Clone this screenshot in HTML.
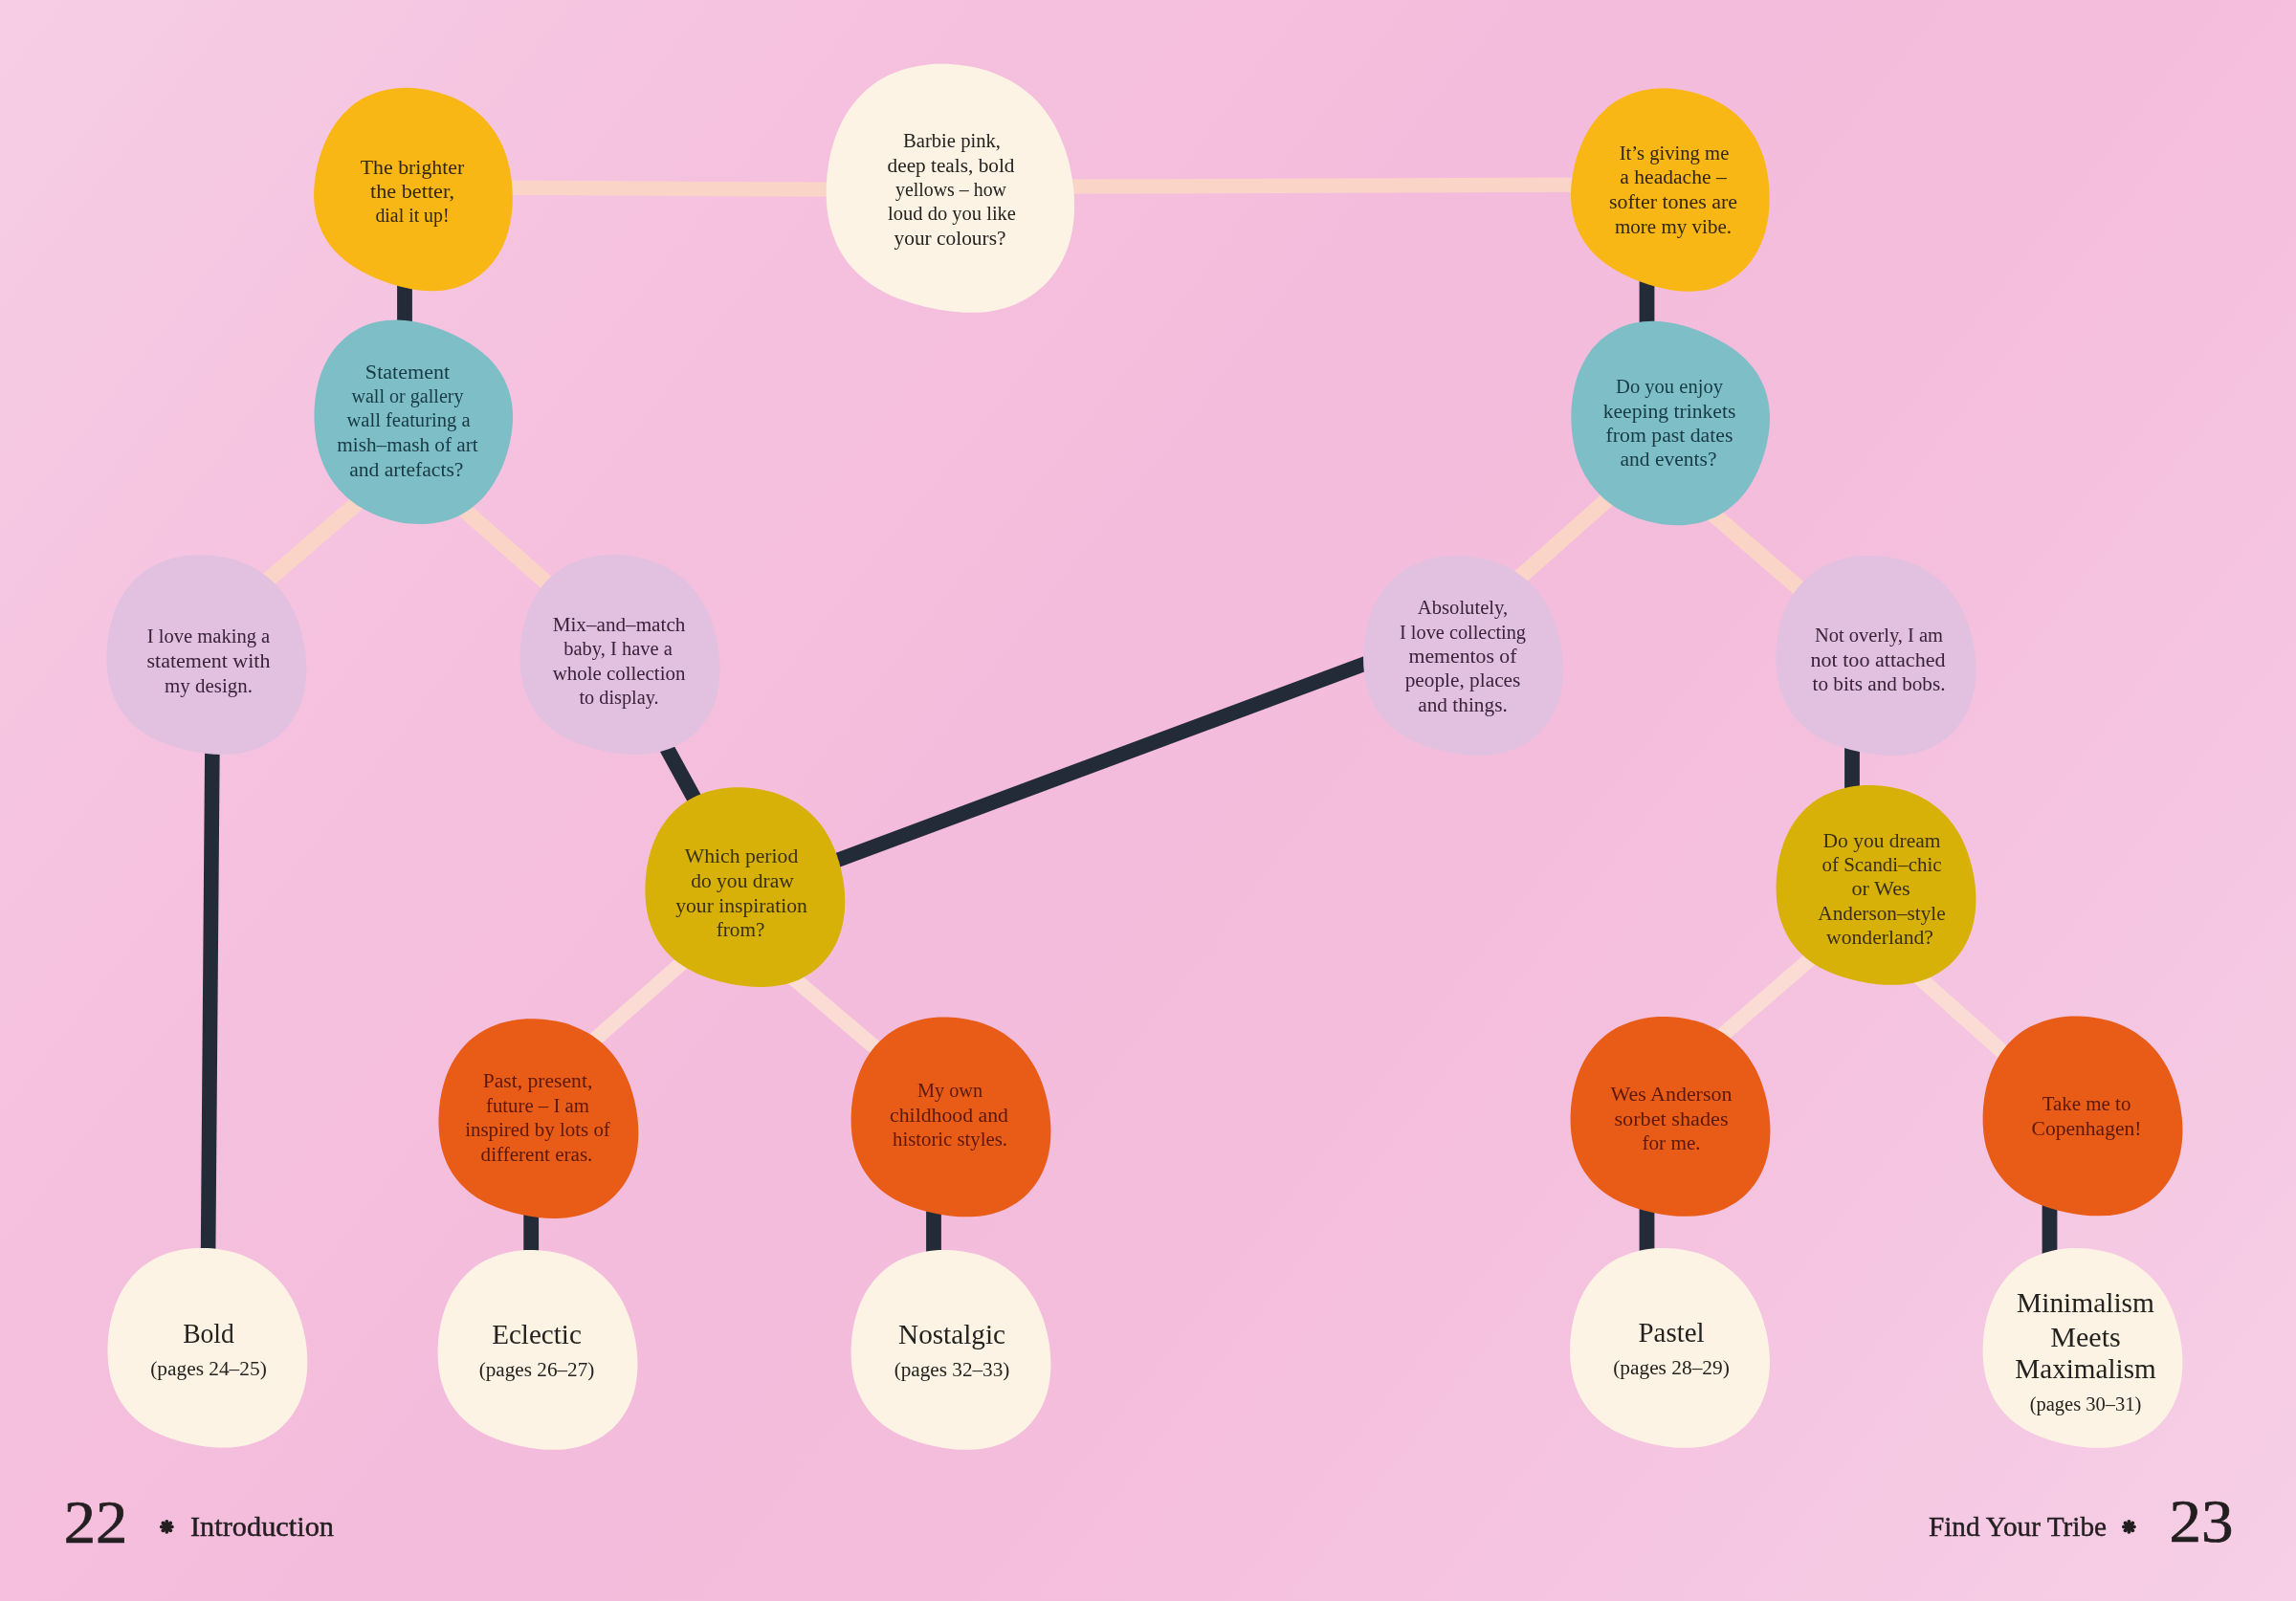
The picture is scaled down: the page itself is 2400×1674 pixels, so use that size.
<!DOCTYPE html>
<html lang="en"><head><meta charset="utf-8"><title>Find Your Tribe</title>
<style>
html,body{margin:0;padding:0}
body{width:2400px;height:1674px;overflow:hidden;position:relative;font-family:"Liberation Serif",serif;
background:linear-gradient(128deg,#f6cde5 0%,#f5c2df 22%,#f4bcdc 45%,#f4bddc 62%,#f5c7e2 84%,#f7cfe7 100%)}
svg{position:absolute;left:0;top:0;display:block}
#txt{position:absolute;left:0;top:0;width:2400px;height:1674px;will-change:transform}
.t{position:absolute;white-space:nowrap;line-height:1;transform-origin:50% 50%}
</style></head><body>
<svg width="2400" height="1674" viewBox="0 0 2400 1674"><line x1="520.0" y1="196.2" x2="880.0" y2="198.2" stroke="#FBD4C8" stroke-width="15.3"/><line x1="1105.0" y1="195.2" x2="1660.0" y2="193.2" stroke="#FBD4C8" stroke-width="15.3"/><line x1="410.2" y1="494.2" x2="242.6" y2="638.7" stroke="#FBD4C8" stroke-width="16.6"/><line x1="452.5" y1="504.1" x2="606.1" y2="640.1" stroke="#FBD4C8" stroke-width="16.6"/><line x1="1717.1" y1="489.6" x2="1551.1" y2="637.0" stroke="#FBD4C8" stroke-width="16.6"/><line x1="1757.3" y1="508.9" x2="1918.1" y2="647.4" stroke="#FBD4C8" stroke-width="16.6"/><line x1="747.3" y1="976.5" x2="585.6" y2="1118.7" stroke="#FADCD5" stroke-width="15.6"/><line x1="799.7" y1="997.6" x2="947.9" y2="1123.5" stroke="#FADCD5" stroke-width="15.6"/><line x1="1926.0" y1="973.7" x2="1766.5" y2="1111.4" stroke="#FADCD5" stroke-width="15.6"/><line x1="1976.7" y1="996.0" x2="2125.7" y2="1128.6" stroke="#FADCD5" stroke-width="15.6"/><line x1="423.0" y1="290.0" x2="423.0" y2="350.0" stroke="#242B38" stroke-width="15.8"/><line x1="1721.5" y1="290.0" x2="1721.5" y2="350.0" stroke="#242B38" stroke-width="15.8"/><line x1="222.0" y1="770.0" x2="217.5" y2="1320.0" stroke="#242B38" stroke-width="15.6"/><line x1="1936.0" y1="775.0" x2="1936.0" y2="840.0" stroke="#242B38" stroke-width="15.8"/><line x1="555.2" y1="1255.0" x2="555.2" y2="1325.0" stroke="#242B38" stroke-width="15.8"/><line x1="976.0" y1="1255.0" x2="976.0" y2="1325.0" stroke="#242B38" stroke-width="15.8"/><line x1="1721.5" y1="1255.0" x2="1721.5" y2="1325.0" stroke="#242B38" stroke-width="15.8"/><line x1="2142.5" y1="1255.0" x2="2142.5" y2="1325.0" stroke="#242B38" stroke-width="15.8"/><line x1="684.5" y1="759.4" x2="738.1" y2="857.4" stroke="#242B38" stroke-width="15.8"/><line x1="859.3" y1="905.4" x2="1446.2" y2="686.8" stroke="#242B38" stroke-width="15.4"/><path d="M103.5 0.0C104.1 6.0 104.5 12.2 104.3 18.4C104.1 24.6 103.6 31.0 102.3 37.2C101.0 43.5 99.2 49.8 96.6 55.8C94.0 61.7 90.7 67.6 86.7 72.8C82.8 78.0 78.0 82.8 72.9 86.9C67.8 90.9 61.9 94.3 56.0 97.0C50.1 99.6 43.6 101.4 37.4 102.7C31.1 104.0 24.7 104.5 18.4 104.6C12.2 104.8 6.0 104.3 0.0 103.7C-6.0 103.0 -11.9 102.0 -17.8 100.8C-23.6 99.5 -29.4 98.1 -35.0 96.3C-40.7 94.5 -46.4 92.4 -51.9 89.8C-57.3 87.2 -62.8 84.3 -67.7 80.7C-72.7 77.2 -77.5 73.1 -81.7 68.5C-85.8 64.0 -89.6 58.8 -92.6 53.5C-95.6 48.1 -98.1 42.2 -99.9 36.4C-101.8 30.5 -102.9 24.3 -103.7 18.3C-104.4 12.2 -104.6 6.1 -104.5 0.0C-104.4 -6.1 -103.9 -12.1 -103.0 -18.2C-102.1 -24.2 -100.9 -30.2 -99.1 -36.1C-97.4 -42.0 -95.3 -47.9 -92.6 -53.5C-89.9 -59.0 -86.6 -64.6 -82.8 -69.5C-79.0 -74.5 -74.6 -79.2 -69.8 -83.2C-65.0 -87.2 -59.6 -90.7 -54.0 -93.6C-48.5 -96.4 -42.5 -98.6 -36.5 -100.3C-30.5 -101.9 -24.3 -103.0 -18.3 -103.6C-12.2 -104.2 -6.0 -104.2 -0.0 -103.9C6.0 -103.6 12.1 -102.9 17.9 -101.7C23.8 -100.5 29.7 -99.0 35.3 -96.9C40.9 -94.8 46.4 -92.3 51.6 -89.3C56.7 -86.3 61.7 -82.7 66.2 -78.8C70.6 -74.9 74.8 -70.5 78.5 -65.8C82.1 -61.2 85.3 -56.1 88.2 -50.9C91.0 -45.7 93.3 -40.2 95.4 -34.7C97.4 -29.2 99.1 -23.5 100.4 -17.7C101.8 -11.9 102.8 -6.0 103.5 0.0Z" transform="translate(433.4 197.1) rotate(8.65)" fill="#F9B716"/><path d="M103.5 0.0C104.1 6.0 104.5 12.2 104.3 18.4C104.1 24.6 103.6 31.0 102.3 37.2C101.0 43.5 99.2 49.8 96.6 55.8C94.0 61.7 90.7 67.6 86.7 72.8C82.8 78.0 78.0 82.8 72.9 86.9C67.8 90.9 61.9 94.3 56.0 97.0C50.1 99.6 43.6 101.4 37.4 102.7C31.1 104.0 24.7 104.5 18.4 104.6C12.2 104.8 6.0 104.3 0.0 103.7C-6.0 103.0 -11.9 102.0 -17.8 100.8C-23.6 99.5 -29.4 98.1 -35.0 96.3C-40.7 94.5 -46.4 92.4 -51.9 89.8C-57.3 87.2 -62.8 84.3 -67.7 80.7C-72.7 77.2 -77.5 73.1 -81.7 68.5C-85.8 64.0 -89.6 58.8 -92.6 53.5C-95.6 48.1 -98.1 42.2 -99.9 36.4C-101.8 30.5 -102.9 24.3 -103.7 18.3C-104.4 12.2 -104.6 6.1 -104.5 0.0C-104.4 -6.1 -103.9 -12.1 -103.0 -18.2C-102.1 -24.2 -100.9 -30.2 -99.1 -36.1C-97.4 -42.0 -95.3 -47.9 -92.6 -53.5C-89.9 -59.0 -86.6 -64.6 -82.8 -69.5C-79.0 -74.5 -74.6 -79.2 -69.8 -83.2C-65.0 -87.2 -59.6 -90.7 -54.0 -93.6C-48.5 -96.4 -42.5 -98.6 -36.5 -100.3C-30.5 -101.9 -24.3 -103.0 -18.3 -103.6C-12.2 -104.2 -6.0 -104.2 -0.0 -103.9C6.0 -103.6 12.1 -102.9 17.9 -101.7C23.8 -100.5 29.7 -99.0 35.3 -96.9C40.9 -94.8 46.4 -92.3 51.6 -89.3C56.7 -86.3 61.7 -82.7 66.2 -78.8C70.6 -74.9 74.8 -70.5 78.5 -65.8C82.1 -61.2 85.3 -56.1 88.2 -50.9C91.0 -45.7 93.3 -40.2 95.4 -34.7C97.4 -29.2 99.1 -23.5 100.4 -17.7C101.8 -11.9 102.8 -6.0 103.5 0.0Z" transform="translate(993.7 196.4) rotate(1.0) scale(1.2434)" fill="#FDF3E4"/><path d="M103.5 0.0C104.1 6.0 104.5 12.2 104.3 18.4C104.1 24.6 103.6 31.0 102.3 37.2C101.0 43.5 99.2 49.8 96.6 55.8C94.0 61.7 90.7 67.6 86.7 72.8C82.8 78.0 78.0 82.8 72.9 86.9C67.8 90.9 61.9 94.3 56.0 97.0C50.1 99.6 43.6 101.4 37.4 102.7C31.1 104.0 24.7 104.5 18.4 104.6C12.2 104.8 6.0 104.3 0.0 103.7C-6.0 103.0 -11.9 102.0 -17.8 100.8C-23.6 99.5 -29.4 98.1 -35.0 96.3C-40.7 94.5 -46.4 92.4 -51.9 89.8C-57.3 87.2 -62.8 84.3 -67.7 80.7C-72.7 77.2 -77.5 73.1 -81.7 68.5C-85.8 64.0 -89.6 58.8 -92.6 53.5C-95.6 48.1 -98.1 42.2 -99.9 36.4C-101.8 30.5 -102.9 24.3 -103.7 18.3C-104.4 12.2 -104.6 6.1 -104.5 0.0C-104.4 -6.1 -103.9 -12.1 -103.0 -18.2C-102.1 -24.2 -100.9 -30.2 -99.1 -36.1C-97.4 -42.0 -95.3 -47.9 -92.6 -53.5C-89.9 -59.0 -86.6 -64.6 -82.8 -69.5C-79.0 -74.5 -74.6 -79.2 -69.8 -83.2C-65.0 -87.2 -59.6 -90.7 -54.0 -93.6C-48.5 -96.4 -42.5 -98.6 -36.5 -100.3C-30.5 -101.9 -24.3 -103.0 -18.3 -103.6C-12.2 -104.2 -6.0 -104.2 -0.0 -103.9C6.0 -103.6 12.1 -102.9 17.9 -101.7C23.8 -100.5 29.7 -99.0 35.3 -96.9C40.9 -94.8 46.4 -92.3 51.6 -89.3C56.7 -86.3 61.7 -82.7 66.2 -78.8C70.6 -74.9 74.8 -70.5 78.5 -65.8C82.1 -61.2 85.3 -56.1 88.2 -50.9C91.0 -45.7 93.3 -40.2 95.4 -34.7C97.4 -29.2 99.1 -23.5 100.4 -17.7C101.8 -11.9 102.8 -6.0 103.5 0.0Z" transform="translate(1747.3 197.6) rotate(8.65)" fill="#F9B716"/><path d="M103.5 0.0C104.1 6.0 104.5 12.2 104.3 18.4C104.1 24.6 103.6 31.0 102.3 37.2C101.0 43.5 99.2 49.8 96.6 55.8C94.0 61.7 90.7 67.6 86.7 72.8C82.8 78.0 78.0 82.8 72.9 86.9C67.8 90.9 61.9 94.3 56.0 97.0C50.1 99.6 43.6 101.4 37.4 102.7C31.1 104.0 24.7 104.5 18.4 104.6C12.2 104.8 6.0 104.3 0.0 103.7C-6.0 103.0 -11.9 102.0 -17.8 100.8C-23.6 99.5 -29.4 98.1 -35.0 96.3C-40.7 94.5 -46.4 92.4 -51.9 89.8C-57.3 87.2 -62.8 84.3 -67.7 80.7C-72.7 77.2 -77.5 73.1 -81.7 68.5C-85.8 64.0 -89.6 58.8 -92.6 53.5C-95.6 48.1 -98.1 42.2 -99.9 36.4C-101.8 30.5 -102.9 24.3 -103.7 18.3C-104.4 12.2 -104.6 6.1 -104.5 0.0C-104.4 -6.1 -103.9 -12.1 -103.0 -18.2C-102.1 -24.2 -100.9 -30.2 -99.1 -36.1C-97.4 -42.0 -95.3 -47.9 -92.6 -53.5C-89.9 -59.0 -86.6 -64.6 -82.8 -69.5C-79.0 -74.5 -74.6 -79.2 -69.8 -83.2C-65.0 -87.2 -59.6 -90.7 -54.0 -93.6C-48.5 -96.4 -42.5 -98.6 -36.5 -100.3C-30.5 -101.9 -24.3 -103.0 -18.3 -103.6C-12.2 -104.2 -6.0 -104.2 -0.0 -103.9C6.0 -103.6 12.1 -102.9 17.9 -101.7C23.8 -100.5 29.7 -99.0 35.3 -96.9C40.9 -94.8 46.4 -92.3 51.6 -89.3C56.7 -86.3 61.7 -82.7 66.2 -78.8C70.6 -74.9 74.8 -70.5 78.5 -65.8C82.1 -61.2 85.3 -56.1 88.2 -50.9C91.0 -45.7 93.3 -40.2 95.4 -34.7C97.4 -29.2 99.1 -23.5 100.4 -17.7C101.8 -11.9 102.8 -6.0 103.5 0.0Z" transform="translate(430.5 442.4) rotate(191.0)" fill="#7EBFC7"/><path d="M103.5 0.0C104.1 6.0 104.5 12.2 104.3 18.4C104.1 24.6 103.6 31.0 102.3 37.2C101.0 43.5 99.2 49.8 96.6 55.8C94.0 61.7 90.7 67.6 86.7 72.8C82.8 78.0 78.0 82.8 72.9 86.9C67.8 90.9 61.9 94.3 56.0 97.0C50.1 99.6 43.6 101.4 37.4 102.7C31.1 104.0 24.7 104.5 18.4 104.6C12.2 104.8 6.0 104.3 0.0 103.7C-6.0 103.0 -11.9 102.0 -17.8 100.8C-23.6 99.5 -29.4 98.1 -35.0 96.3C-40.7 94.5 -46.4 92.4 -51.9 89.8C-57.3 87.2 -62.8 84.3 -67.7 80.7C-72.7 77.2 -77.5 73.1 -81.7 68.5C-85.8 64.0 -89.6 58.8 -92.6 53.5C-95.6 48.1 -98.1 42.2 -99.9 36.4C-101.8 30.5 -102.9 24.3 -103.7 18.3C-104.4 12.2 -104.6 6.1 -104.5 0.0C-104.4 -6.1 -103.9 -12.1 -103.0 -18.2C-102.1 -24.2 -100.9 -30.2 -99.1 -36.1C-97.4 -42.0 -95.3 -47.9 -92.6 -53.5C-89.9 -59.0 -86.6 -64.6 -82.8 -69.5C-79.0 -74.5 -74.6 -79.2 -69.8 -83.2C-65.0 -87.2 -59.6 -90.7 -54.0 -93.6C-48.5 -96.4 -42.5 -98.6 -36.5 -100.3C-30.5 -101.9 -24.3 -103.0 -18.3 -103.6C-12.2 -104.2 -6.0 -104.2 -0.0 -103.9C6.0 -103.6 12.1 -102.9 17.9 -101.7C23.8 -100.5 29.7 -99.0 35.3 -96.9C40.9 -94.8 46.4 -92.3 51.6 -89.3C56.7 -86.3 61.7 -82.7 66.2 -78.8C70.6 -74.9 74.8 -70.5 78.5 -65.8C82.1 -61.2 85.3 -56.1 88.2 -50.9C91.0 -45.7 93.3 -40.2 95.4 -34.7C97.4 -29.2 99.1 -23.5 100.4 -17.7C101.8 -11.9 102.8 -6.0 103.5 0.0Z" transform="translate(1744.4 443.6) rotate(191.0)" fill="#7EBFC7"/><path d="M103.5 0.0C104.1 6.0 104.5 12.2 104.3 18.4C104.1 24.6 103.6 31.0 102.3 37.2C101.0 43.5 99.2 49.8 96.6 55.8C94.0 61.7 90.7 67.6 86.7 72.8C82.8 78.0 78.0 82.8 72.9 86.9C67.8 90.9 61.9 94.3 56.0 97.0C50.1 99.6 43.6 101.4 37.4 102.7C31.1 104.0 24.7 104.5 18.4 104.6C12.2 104.8 6.0 104.3 0.0 103.7C-6.0 103.0 -11.9 102.0 -17.8 100.8C-23.6 99.5 -29.4 98.1 -35.0 96.3C-40.7 94.5 -46.4 92.4 -51.9 89.8C-57.3 87.2 -62.8 84.3 -67.7 80.7C-72.7 77.2 -77.5 73.1 -81.7 68.5C-85.8 64.0 -89.6 58.8 -92.6 53.5C-95.6 48.1 -98.1 42.2 -99.9 36.4C-101.8 30.5 -102.9 24.3 -103.7 18.3C-104.4 12.2 -104.6 6.1 -104.5 0.0C-104.4 -6.1 -103.9 -12.1 -103.0 -18.2C-102.1 -24.2 -100.9 -30.2 -99.1 -36.1C-97.4 -42.0 -95.3 -47.9 -92.6 -53.5C-89.9 -59.0 -86.6 -64.6 -82.8 -69.5C-79.0 -74.5 -74.6 -79.2 -69.8 -83.2C-65.0 -87.2 -59.6 -90.7 -54.0 -93.6C-48.5 -96.4 -42.5 -98.6 -36.5 -100.3C-30.5 -101.9 -24.3 -103.0 -18.3 -103.6C-12.2 -104.2 -6.0 -104.2 -0.0 -103.9C6.0 -103.6 12.1 -102.9 17.9 -101.7C23.8 -100.5 29.7 -99.0 35.3 -96.9C40.9 -94.8 46.4 -92.3 51.6 -89.3C56.7 -86.3 61.7 -82.7 66.2 -78.8C70.6 -74.9 74.8 -70.5 78.5 -65.8C82.1 -61.2 85.3 -56.1 88.2 -50.9C91.0 -45.7 93.3 -40.2 95.4 -34.7C97.4 -29.2 99.1 -23.5 100.4 -17.7C101.8 -11.9 102.8 -6.0 103.5 0.0Z" transform="translate(216.0 684.3)" fill="#E1C1DF"/><path d="M103.5 0.0C104.1 6.0 104.5 12.2 104.3 18.4C104.1 24.6 103.6 31.0 102.3 37.2C101.0 43.5 99.2 49.8 96.6 55.8C94.0 61.7 90.7 67.6 86.7 72.8C82.8 78.0 78.0 82.8 72.9 86.9C67.8 90.9 61.9 94.3 56.0 97.0C50.1 99.6 43.6 101.4 37.4 102.7C31.1 104.0 24.7 104.5 18.4 104.6C12.2 104.8 6.0 104.3 0.0 103.7C-6.0 103.0 -11.9 102.0 -17.8 100.8C-23.6 99.5 -29.4 98.1 -35.0 96.3C-40.7 94.5 -46.4 92.4 -51.9 89.8C-57.3 87.2 -62.8 84.3 -67.7 80.7C-72.7 77.2 -77.5 73.1 -81.7 68.5C-85.8 64.0 -89.6 58.8 -92.6 53.5C-95.6 48.1 -98.1 42.2 -99.9 36.4C-101.8 30.5 -102.9 24.3 -103.7 18.3C-104.4 12.2 -104.6 6.1 -104.5 0.0C-104.4 -6.1 -103.9 -12.1 -103.0 -18.2C-102.1 -24.2 -100.9 -30.2 -99.1 -36.1C-97.4 -42.0 -95.3 -47.9 -92.6 -53.5C-89.9 -59.0 -86.6 -64.6 -82.8 -69.5C-79.0 -74.5 -74.6 -79.2 -69.8 -83.2C-65.0 -87.2 -59.6 -90.7 -54.0 -93.6C-48.5 -96.4 -42.5 -98.6 -36.5 -100.3C-30.5 -101.9 -24.3 -103.0 -18.3 -103.6C-12.2 -104.2 -6.0 -104.2 -0.0 -103.9C6.0 -103.6 12.1 -102.9 17.9 -101.7C23.8 -100.5 29.7 -99.0 35.3 -96.9C40.9 -94.8 46.4 -92.3 51.6 -89.3C56.7 -86.3 61.7 -82.7 66.2 -78.8C70.6 -74.9 74.8 -70.5 78.5 -65.8C82.1 -61.2 85.3 -56.1 88.2 -50.9C91.0 -45.7 93.3 -40.2 95.4 -34.7C97.4 -29.2 99.1 -23.5 100.4 -17.7C101.8 -11.9 102.8 -6.0 103.5 0.0Z" transform="translate(648.1 684.2)" fill="#E1C1DF"/><path d="M103.5 0.0C104.1 6.0 104.5 12.2 104.3 18.4C104.1 24.6 103.6 31.0 102.3 37.2C101.0 43.5 99.2 49.8 96.6 55.8C94.0 61.7 90.7 67.6 86.7 72.8C82.8 78.0 78.0 82.8 72.9 86.9C67.8 90.9 61.9 94.3 56.0 97.0C50.1 99.6 43.6 101.4 37.4 102.7C31.1 104.0 24.7 104.5 18.4 104.6C12.2 104.8 6.0 104.3 0.0 103.7C-6.0 103.0 -11.9 102.0 -17.8 100.8C-23.6 99.5 -29.4 98.1 -35.0 96.3C-40.7 94.5 -46.4 92.4 -51.9 89.8C-57.3 87.2 -62.8 84.3 -67.7 80.7C-72.7 77.2 -77.5 73.1 -81.7 68.5C-85.8 64.0 -89.6 58.8 -92.6 53.5C-95.6 48.1 -98.1 42.2 -99.9 36.4C-101.8 30.5 -102.9 24.3 -103.7 18.3C-104.4 12.2 -104.6 6.1 -104.5 0.0C-104.4 -6.1 -103.9 -12.1 -103.0 -18.2C-102.1 -24.2 -100.9 -30.2 -99.1 -36.1C-97.4 -42.0 -95.3 -47.9 -92.6 -53.5C-89.9 -59.0 -86.6 -64.6 -82.8 -69.5C-79.0 -74.5 -74.6 -79.2 -69.8 -83.2C-65.0 -87.2 -59.6 -90.7 -54.0 -93.6C-48.5 -96.4 -42.5 -98.6 -36.5 -100.3C-30.5 -101.9 -24.3 -103.0 -18.3 -103.6C-12.2 -104.2 -6.0 -104.2 -0.0 -103.9C6.0 -103.6 12.1 -102.9 17.9 -101.7C23.8 -100.5 29.7 -99.0 35.3 -96.9C40.9 -94.8 46.4 -92.3 51.6 -89.3C56.7 -86.3 61.7 -82.7 66.2 -78.8C70.6 -74.9 74.8 -70.5 78.5 -65.8C82.1 -61.2 85.3 -56.1 88.2 -50.9C91.0 -45.7 93.3 -40.2 95.4 -34.7C97.4 -29.2 99.1 -23.5 100.4 -17.7C101.8 -11.9 102.8 -6.0 103.5 0.0Z" transform="translate(1529.6 685.2)" fill="#E1C1DF"/><path d="M103.5 0.0C104.1 6.0 104.5 12.2 104.3 18.4C104.1 24.6 103.6 31.0 102.3 37.2C101.0 43.5 99.2 49.8 96.6 55.8C94.0 61.7 90.7 67.6 86.7 72.8C82.8 78.0 78.0 82.8 72.9 86.9C67.8 90.9 61.9 94.3 56.0 97.0C50.1 99.6 43.6 101.4 37.4 102.7C31.1 104.0 24.7 104.5 18.4 104.6C12.2 104.8 6.0 104.3 0.0 103.7C-6.0 103.0 -11.9 102.0 -17.8 100.8C-23.6 99.5 -29.4 98.1 -35.0 96.3C-40.7 94.5 -46.4 92.4 -51.9 89.8C-57.3 87.2 -62.8 84.3 -67.7 80.7C-72.7 77.2 -77.5 73.1 -81.7 68.5C-85.8 64.0 -89.6 58.8 -92.6 53.5C-95.6 48.1 -98.1 42.2 -99.9 36.4C-101.8 30.5 -102.9 24.3 -103.7 18.3C-104.4 12.2 -104.6 6.1 -104.5 0.0C-104.4 -6.1 -103.9 -12.1 -103.0 -18.2C-102.1 -24.2 -100.9 -30.2 -99.1 -36.1C-97.4 -42.0 -95.3 -47.9 -92.6 -53.5C-89.9 -59.0 -86.6 -64.6 -82.8 -69.5C-79.0 -74.5 -74.6 -79.2 -69.8 -83.2C-65.0 -87.2 -59.6 -90.7 -54.0 -93.6C-48.5 -96.4 -42.5 -98.6 -36.5 -100.3C-30.5 -101.9 -24.3 -103.0 -18.3 -103.6C-12.2 -104.2 -6.0 -104.2 -0.0 -103.9C6.0 -103.6 12.1 -102.9 17.9 -101.7C23.8 -100.5 29.7 -99.0 35.3 -96.9C40.9 -94.8 46.4 -92.3 51.6 -89.3C56.7 -86.3 61.7 -82.7 66.2 -78.8C70.6 -74.9 74.8 -70.5 78.5 -65.8C82.1 -61.2 85.3 -56.1 88.2 -50.9C91.0 -45.7 93.3 -40.2 95.4 -34.7C97.4 -29.2 99.1 -23.5 100.4 -17.7C101.8 -11.9 102.8 -6.0 103.5 0.0Z" transform="translate(1961.1 685.2)" fill="#E1C1DF"/><path d="M103.5 0.0C104.1 6.0 104.5 12.2 104.3 18.4C104.1 24.6 103.6 31.0 102.3 37.2C101.0 43.5 99.2 49.8 96.6 55.8C94.0 61.7 90.7 67.6 86.7 72.8C82.8 78.0 78.0 82.8 72.9 86.9C67.8 90.9 61.9 94.3 56.0 97.0C50.1 99.6 43.6 101.4 37.4 102.7C31.1 104.0 24.7 104.5 18.4 104.6C12.2 104.8 6.0 104.3 0.0 103.7C-6.0 103.0 -11.9 102.0 -17.8 100.8C-23.6 99.5 -29.4 98.1 -35.0 96.3C-40.7 94.5 -46.4 92.4 -51.9 89.8C-57.3 87.2 -62.8 84.3 -67.7 80.7C-72.7 77.2 -77.5 73.1 -81.7 68.5C-85.8 64.0 -89.6 58.8 -92.6 53.5C-95.6 48.1 -98.1 42.2 -99.9 36.4C-101.8 30.5 -102.9 24.3 -103.7 18.3C-104.4 12.2 -104.6 6.1 -104.5 0.0C-104.4 -6.1 -103.9 -12.1 -103.0 -18.2C-102.1 -24.2 -100.9 -30.2 -99.1 -36.1C-97.4 -42.0 -95.3 -47.9 -92.6 -53.5C-89.9 -59.0 -86.6 -64.6 -82.8 -69.5C-79.0 -74.5 -74.6 -79.2 -69.8 -83.2C-65.0 -87.2 -59.6 -90.7 -54.0 -93.6C-48.5 -96.4 -42.5 -98.6 -36.5 -100.3C-30.5 -101.9 -24.3 -103.0 -18.3 -103.6C-12.2 -104.2 -6.0 -104.2 -0.0 -103.9C6.0 -103.6 12.1 -102.9 17.9 -101.7C23.8 -100.5 29.7 -99.0 35.3 -96.9C40.9 -94.8 46.4 -92.3 51.6 -89.3C56.7 -86.3 61.7 -82.7 66.2 -78.8C70.6 -74.9 74.8 -70.5 78.5 -65.8C82.1 -61.2 85.3 -56.1 88.2 -50.9C91.0 -45.7 93.3 -40.2 95.4 -34.7C97.4 -29.2 99.1 -23.5 100.4 -17.7C101.8 -11.9 102.8 -6.0 103.5 0.0Z" transform="translate(778.9 927.4)" fill="#D8B108"/><path d="M103.5 0.0C104.1 6.0 104.5 12.2 104.3 18.4C104.1 24.6 103.6 31.0 102.3 37.2C101.0 43.5 99.2 49.8 96.6 55.8C94.0 61.7 90.7 67.6 86.7 72.8C82.8 78.0 78.0 82.8 72.9 86.9C67.8 90.9 61.9 94.3 56.0 97.0C50.1 99.6 43.6 101.4 37.4 102.7C31.1 104.0 24.7 104.5 18.4 104.6C12.2 104.8 6.0 104.3 0.0 103.7C-6.0 103.0 -11.9 102.0 -17.8 100.8C-23.6 99.5 -29.4 98.1 -35.0 96.3C-40.7 94.5 -46.4 92.4 -51.9 89.8C-57.3 87.2 -62.8 84.3 -67.7 80.7C-72.7 77.2 -77.5 73.1 -81.7 68.5C-85.8 64.0 -89.6 58.8 -92.6 53.5C-95.6 48.1 -98.1 42.2 -99.9 36.4C-101.8 30.5 -102.9 24.3 -103.7 18.3C-104.4 12.2 -104.6 6.1 -104.5 0.0C-104.4 -6.1 -103.9 -12.1 -103.0 -18.2C-102.1 -24.2 -100.9 -30.2 -99.1 -36.1C-97.4 -42.0 -95.3 -47.9 -92.6 -53.5C-89.9 -59.0 -86.6 -64.6 -82.8 -69.5C-79.0 -74.5 -74.6 -79.2 -69.8 -83.2C-65.0 -87.2 -59.6 -90.7 -54.0 -93.6C-48.5 -96.4 -42.5 -98.6 -36.5 -100.3C-30.5 -101.9 -24.3 -103.0 -18.3 -103.6C-12.2 -104.2 -6.0 -104.2 -0.0 -103.9C6.0 -103.6 12.1 -102.9 17.9 -101.7C23.8 -100.5 29.7 -99.0 35.3 -96.9C40.9 -94.8 46.4 -92.3 51.6 -89.3C56.7 -86.3 61.7 -82.7 66.2 -78.8C70.6 -74.9 74.8 -70.5 78.5 -65.8C82.1 -61.2 85.3 -56.1 88.2 -50.9C91.0 -45.7 93.3 -40.2 95.4 -34.7C97.4 -29.2 99.1 -23.5 100.4 -17.7C101.8 -11.9 102.8 -6.0 103.5 0.0Z" transform="translate(1961.1 925.2)" fill="#D8B108"/><path d="M103.5 0.0C104.1 6.0 104.5 12.2 104.3 18.4C104.1 24.6 103.6 31.0 102.3 37.2C101.0 43.5 99.2 49.8 96.6 55.8C94.0 61.7 90.7 67.6 86.7 72.8C82.8 78.0 78.0 82.8 72.9 86.9C67.8 90.9 61.9 94.3 56.0 97.0C50.1 99.6 43.6 101.4 37.4 102.7C31.1 104.0 24.7 104.5 18.4 104.6C12.2 104.8 6.0 104.3 0.0 103.7C-6.0 103.0 -11.9 102.0 -17.8 100.8C-23.6 99.5 -29.4 98.1 -35.0 96.3C-40.7 94.5 -46.4 92.4 -51.9 89.8C-57.3 87.2 -62.8 84.3 -67.7 80.7C-72.7 77.2 -77.5 73.1 -81.7 68.5C-85.8 64.0 -89.6 58.8 -92.6 53.5C-95.6 48.1 -98.1 42.2 -99.9 36.4C-101.8 30.5 -102.9 24.3 -103.7 18.3C-104.4 12.2 -104.6 6.1 -104.5 0.0C-104.4 -6.1 -103.9 -12.1 -103.0 -18.2C-102.1 -24.2 -100.9 -30.2 -99.1 -36.1C-97.4 -42.0 -95.3 -47.9 -92.6 -53.5C-89.9 -59.0 -86.6 -64.6 -82.8 -69.5C-79.0 -74.5 -74.6 -79.2 -69.8 -83.2C-65.0 -87.2 -59.6 -90.7 -54.0 -93.6C-48.5 -96.4 -42.5 -98.6 -36.5 -100.3C-30.5 -101.9 -24.3 -103.0 -18.3 -103.6C-12.2 -104.2 -6.0 -104.2 -0.0 -103.9C6.0 -103.6 12.1 -102.9 17.9 -101.7C23.8 -100.5 29.7 -99.0 35.3 -96.9C40.9 -94.8 46.4 -92.3 51.6 -89.3C56.7 -86.3 61.7 -82.7 66.2 -78.8C70.6 -74.9 74.8 -70.5 78.5 -65.8C82.1 -61.2 85.3 -56.1 88.2 -50.9C91.0 -45.7 93.3 -40.2 95.4 -34.7C97.4 -29.2 99.1 -23.5 100.4 -17.7C101.8 -11.9 102.8 -6.0 103.5 0.0Z" transform="translate(563.0 1169.3)" fill="#E95C18"/><path d="M103.5 0.0C104.1 6.0 104.5 12.2 104.3 18.4C104.1 24.6 103.6 31.0 102.3 37.2C101.0 43.5 99.2 49.8 96.6 55.8C94.0 61.7 90.7 67.6 86.7 72.8C82.8 78.0 78.0 82.8 72.9 86.9C67.8 90.9 61.9 94.3 56.0 97.0C50.1 99.6 43.6 101.4 37.4 102.7C31.1 104.0 24.7 104.5 18.4 104.6C12.2 104.8 6.0 104.3 0.0 103.7C-6.0 103.0 -11.9 102.0 -17.8 100.8C-23.6 99.5 -29.4 98.1 -35.0 96.3C-40.7 94.5 -46.4 92.4 -51.9 89.8C-57.3 87.2 -62.8 84.3 -67.7 80.7C-72.7 77.2 -77.5 73.1 -81.7 68.5C-85.8 64.0 -89.6 58.8 -92.6 53.5C-95.6 48.1 -98.1 42.2 -99.9 36.4C-101.8 30.5 -102.9 24.3 -103.7 18.3C-104.4 12.2 -104.6 6.1 -104.5 0.0C-104.4 -6.1 -103.9 -12.1 -103.0 -18.2C-102.1 -24.2 -100.9 -30.2 -99.1 -36.1C-97.4 -42.0 -95.3 -47.9 -92.6 -53.5C-89.9 -59.0 -86.6 -64.6 -82.8 -69.5C-79.0 -74.5 -74.6 -79.2 -69.8 -83.2C-65.0 -87.2 -59.6 -90.7 -54.0 -93.6C-48.5 -96.4 -42.5 -98.6 -36.5 -100.3C-30.5 -101.9 -24.3 -103.0 -18.3 -103.6C-12.2 -104.2 -6.0 -104.2 -0.0 -103.9C6.0 -103.6 12.1 -102.9 17.9 -101.7C23.8 -100.5 29.7 -99.0 35.3 -96.9C40.9 -94.8 46.4 -92.3 51.6 -89.3C56.7 -86.3 61.7 -82.7 66.2 -78.8C70.6 -74.9 74.8 -70.5 78.5 -65.8C82.1 -61.2 85.3 -56.1 88.2 -50.9C91.0 -45.7 93.3 -40.2 95.4 -34.7C97.4 -29.2 99.1 -23.5 100.4 -17.7C101.8 -11.9 102.8 -6.0 103.5 0.0Z" transform="translate(994.1 1167.7)" fill="#E95C18"/><path d="M103.5 0.0C104.1 6.0 104.5 12.2 104.3 18.4C104.1 24.6 103.6 31.0 102.3 37.2C101.0 43.5 99.2 49.8 96.6 55.8C94.0 61.7 90.7 67.6 86.7 72.8C82.8 78.0 78.0 82.8 72.9 86.9C67.8 90.9 61.9 94.3 56.0 97.0C50.1 99.6 43.6 101.4 37.4 102.7C31.1 104.0 24.7 104.5 18.4 104.6C12.2 104.8 6.0 104.3 0.0 103.7C-6.0 103.0 -11.9 102.0 -17.8 100.8C-23.6 99.5 -29.4 98.1 -35.0 96.3C-40.7 94.5 -46.4 92.4 -51.9 89.8C-57.3 87.2 -62.8 84.3 -67.7 80.7C-72.7 77.2 -77.5 73.1 -81.7 68.5C-85.8 64.0 -89.6 58.8 -92.6 53.5C-95.6 48.1 -98.1 42.2 -99.9 36.4C-101.8 30.5 -102.9 24.3 -103.7 18.3C-104.4 12.2 -104.6 6.1 -104.5 0.0C-104.4 -6.1 -103.9 -12.1 -103.0 -18.2C-102.1 -24.2 -100.9 -30.2 -99.1 -36.1C-97.4 -42.0 -95.3 -47.9 -92.6 -53.5C-89.9 -59.0 -86.6 -64.6 -82.8 -69.5C-79.0 -74.5 -74.6 -79.2 -69.8 -83.2C-65.0 -87.2 -59.6 -90.7 -54.0 -93.6C-48.5 -96.4 -42.5 -98.6 -36.5 -100.3C-30.5 -101.9 -24.3 -103.0 -18.3 -103.6C-12.2 -104.2 -6.0 -104.2 -0.0 -103.9C6.0 -103.6 12.1 -102.9 17.9 -101.7C23.8 -100.5 29.7 -99.0 35.3 -96.9C40.9 -94.8 46.4 -92.3 51.6 -89.3C56.7 -86.3 61.7 -82.7 66.2 -78.8C70.6 -74.9 74.8 -70.5 78.5 -65.8C82.1 -61.2 85.3 -56.1 88.2 -50.9C91.0 -45.7 93.3 -40.2 95.4 -34.7C97.4 -29.2 99.1 -23.5 100.4 -17.7C101.8 -11.9 102.8 -6.0 103.5 0.0Z" transform="translate(1746.1 1167.2)" fill="#E95C18"/><path d="M103.5 0.0C104.1 6.0 104.5 12.2 104.3 18.4C104.1 24.6 103.6 31.0 102.3 37.2C101.0 43.5 99.2 49.8 96.6 55.8C94.0 61.7 90.7 67.6 86.7 72.8C82.8 78.0 78.0 82.8 72.9 86.9C67.8 90.9 61.9 94.3 56.0 97.0C50.1 99.6 43.6 101.4 37.4 102.7C31.1 104.0 24.7 104.5 18.4 104.6C12.2 104.8 6.0 104.3 0.0 103.7C-6.0 103.0 -11.9 102.0 -17.8 100.8C-23.6 99.5 -29.4 98.1 -35.0 96.3C-40.7 94.5 -46.4 92.4 -51.9 89.8C-57.3 87.2 -62.8 84.3 -67.7 80.7C-72.7 77.2 -77.5 73.1 -81.7 68.5C-85.8 64.0 -89.6 58.8 -92.6 53.5C-95.6 48.1 -98.1 42.2 -99.9 36.4C-101.8 30.5 -102.9 24.3 -103.7 18.3C-104.4 12.2 -104.6 6.1 -104.5 0.0C-104.4 -6.1 -103.9 -12.1 -103.0 -18.2C-102.1 -24.2 -100.9 -30.2 -99.1 -36.1C-97.4 -42.0 -95.3 -47.9 -92.6 -53.5C-89.9 -59.0 -86.6 -64.6 -82.8 -69.5C-79.0 -74.5 -74.6 -79.2 -69.8 -83.2C-65.0 -87.2 -59.6 -90.7 -54.0 -93.6C-48.5 -96.4 -42.5 -98.6 -36.5 -100.3C-30.5 -101.9 -24.3 -103.0 -18.3 -103.6C-12.2 -104.2 -6.0 -104.2 -0.0 -103.9C6.0 -103.6 12.1 -102.9 17.9 -101.7C23.8 -100.5 29.7 -99.0 35.3 -96.9C40.9 -94.8 46.4 -92.3 51.6 -89.3C56.7 -86.3 61.7 -82.7 66.2 -78.8C70.6 -74.9 74.8 -70.5 78.5 -65.8C82.1 -61.2 85.3 -56.1 88.2 -50.9C91.0 -45.7 93.3 -40.2 95.4 -34.7C97.4 -29.2 99.1 -23.5 100.4 -17.7C101.8 -11.9 102.8 -6.0 103.5 0.0Z" transform="translate(2177.1 1166.7)" fill="#E95C18"/><path d="M103.5 0.0C104.1 6.0 104.5 12.2 104.3 18.4C104.1 24.6 103.6 31.0 102.3 37.2C101.0 43.5 99.2 49.8 96.6 55.8C94.0 61.7 90.7 67.6 86.7 72.8C82.8 78.0 78.0 82.8 72.9 86.9C67.8 90.9 61.9 94.3 56.0 97.0C50.1 99.6 43.6 101.4 37.4 102.7C31.1 104.0 24.7 104.5 18.4 104.6C12.2 104.8 6.0 104.3 0.0 103.7C-6.0 103.0 -11.9 102.0 -17.8 100.8C-23.6 99.5 -29.4 98.1 -35.0 96.3C-40.7 94.5 -46.4 92.4 -51.9 89.8C-57.3 87.2 -62.8 84.3 -67.7 80.7C-72.7 77.2 -77.5 73.1 -81.7 68.5C-85.8 64.0 -89.6 58.8 -92.6 53.5C-95.6 48.1 -98.1 42.2 -99.9 36.4C-101.8 30.5 -102.9 24.3 -103.7 18.3C-104.4 12.2 -104.6 6.1 -104.5 0.0C-104.4 -6.1 -103.9 -12.1 -103.0 -18.2C-102.1 -24.2 -100.9 -30.2 -99.1 -36.1C-97.4 -42.0 -95.3 -47.9 -92.6 -53.5C-89.9 -59.0 -86.6 -64.6 -82.8 -69.5C-79.0 -74.5 -74.6 -79.2 -69.8 -83.2C-65.0 -87.2 -59.6 -90.7 -54.0 -93.6C-48.5 -96.4 -42.5 -98.6 -36.5 -100.3C-30.5 -101.9 -24.3 -103.0 -18.3 -103.6C-12.2 -104.2 -6.0 -104.2 -0.0 -103.9C6.0 -103.6 12.1 -102.9 17.9 -101.7C23.8 -100.5 29.7 -99.0 35.3 -96.9C40.9 -94.8 46.4 -92.3 51.6 -89.3C56.7 -86.3 61.7 -82.7 66.2 -78.8C70.6 -74.9 74.8 -70.5 78.5 -65.8C82.1 -61.2 85.3 -56.1 88.2 -50.9C91.0 -45.7 93.3 -40.2 95.4 -34.7C97.4 -29.2 99.1 -23.5 100.4 -17.7C101.8 -11.9 102.8 -6.0 103.5 0.0Z" transform="translate(217.0 1409.0)" fill="#FDF3E4"/><path d="M103.5 0.0C104.1 6.0 104.5 12.2 104.3 18.4C104.1 24.6 103.6 31.0 102.3 37.2C101.0 43.5 99.2 49.8 96.6 55.8C94.0 61.7 90.7 67.6 86.7 72.8C82.8 78.0 78.0 82.8 72.9 86.9C67.8 90.9 61.9 94.3 56.0 97.0C50.1 99.6 43.6 101.4 37.4 102.7C31.1 104.0 24.7 104.5 18.4 104.6C12.2 104.8 6.0 104.3 0.0 103.7C-6.0 103.0 -11.9 102.0 -17.8 100.8C-23.6 99.5 -29.4 98.1 -35.0 96.3C-40.7 94.5 -46.4 92.4 -51.9 89.8C-57.3 87.2 -62.8 84.3 -67.7 80.7C-72.7 77.2 -77.5 73.1 -81.7 68.5C-85.8 64.0 -89.6 58.8 -92.6 53.5C-95.6 48.1 -98.1 42.2 -99.9 36.4C-101.8 30.5 -102.9 24.3 -103.7 18.3C-104.4 12.2 -104.6 6.1 -104.5 0.0C-104.4 -6.1 -103.9 -12.1 -103.0 -18.2C-102.1 -24.2 -100.9 -30.2 -99.1 -36.1C-97.4 -42.0 -95.3 -47.9 -92.6 -53.5C-89.9 -59.0 -86.6 -64.6 -82.8 -69.5C-79.0 -74.5 -74.6 -79.2 -69.8 -83.2C-65.0 -87.2 -59.6 -90.7 -54.0 -93.6C-48.5 -96.4 -42.5 -98.6 -36.5 -100.3C-30.5 -101.9 -24.3 -103.0 -18.3 -103.6C-12.2 -104.2 -6.0 -104.2 -0.0 -103.9C6.0 -103.6 12.1 -102.9 17.9 -101.7C23.8 -100.5 29.7 -99.0 35.3 -96.9C40.9 -94.8 46.4 -92.3 51.6 -89.3C56.7 -86.3 61.7 -82.7 66.2 -78.8C70.6 -74.9 74.8 -70.5 78.5 -65.8C82.1 -61.2 85.3 -56.1 88.2 -50.9C91.0 -45.7 93.3 -40.2 95.4 -34.7C97.4 -29.2 99.1 -23.5 100.4 -17.7C101.8 -11.9 102.8 -6.0 103.5 0.0Z" transform="translate(562.1 1411.2)" fill="#FDF3E4"/><path d="M103.5 0.0C104.1 6.0 104.5 12.2 104.3 18.4C104.1 24.6 103.6 31.0 102.3 37.2C101.0 43.5 99.2 49.8 96.6 55.8C94.0 61.7 90.7 67.6 86.7 72.8C82.8 78.0 78.0 82.8 72.9 86.9C67.8 90.9 61.9 94.3 56.0 97.0C50.1 99.6 43.6 101.4 37.4 102.7C31.1 104.0 24.7 104.5 18.4 104.6C12.2 104.8 6.0 104.3 0.0 103.7C-6.0 103.0 -11.9 102.0 -17.8 100.8C-23.6 99.5 -29.4 98.1 -35.0 96.3C-40.7 94.5 -46.4 92.4 -51.9 89.8C-57.3 87.2 -62.8 84.3 -67.7 80.7C-72.7 77.2 -77.5 73.1 -81.7 68.5C-85.8 64.0 -89.6 58.8 -92.6 53.5C-95.6 48.1 -98.1 42.2 -99.9 36.4C-101.8 30.5 -102.9 24.3 -103.7 18.3C-104.4 12.2 -104.6 6.1 -104.5 0.0C-104.4 -6.1 -103.9 -12.1 -103.0 -18.2C-102.1 -24.2 -100.9 -30.2 -99.1 -36.1C-97.4 -42.0 -95.3 -47.9 -92.6 -53.5C-89.9 -59.0 -86.6 -64.6 -82.8 -69.5C-79.0 -74.5 -74.6 -79.2 -69.8 -83.2C-65.0 -87.2 -59.6 -90.7 -54.0 -93.6C-48.5 -96.4 -42.5 -98.6 -36.5 -100.3C-30.5 -101.9 -24.3 -103.0 -18.3 -103.6C-12.2 -104.2 -6.0 -104.2 -0.0 -103.9C6.0 -103.6 12.1 -102.9 17.9 -101.7C23.8 -100.5 29.7 -99.0 35.3 -96.9C40.9 -94.8 46.4 -92.3 51.6 -89.3C56.7 -86.3 61.7 -82.7 66.2 -78.8C70.6 -74.9 74.8 -70.5 78.5 -65.8C82.1 -61.2 85.3 -56.1 88.2 -50.9C91.0 -45.7 93.3 -40.2 95.4 -34.7C97.4 -29.2 99.1 -23.5 100.4 -17.7C101.8 -11.9 102.8 -6.0 103.5 0.0Z" transform="translate(994.1 1411.2)" fill="#FDF3E4"/><path d="M103.5 0.0C104.1 6.0 104.5 12.2 104.3 18.4C104.1 24.6 103.6 31.0 102.3 37.2C101.0 43.5 99.2 49.8 96.6 55.8C94.0 61.7 90.7 67.6 86.7 72.8C82.8 78.0 78.0 82.8 72.9 86.9C67.8 90.9 61.9 94.3 56.0 97.0C50.1 99.6 43.6 101.4 37.4 102.7C31.1 104.0 24.7 104.5 18.4 104.6C12.2 104.8 6.0 104.3 0.0 103.7C-6.0 103.0 -11.9 102.0 -17.8 100.8C-23.6 99.5 -29.4 98.1 -35.0 96.3C-40.7 94.5 -46.4 92.4 -51.9 89.8C-57.3 87.2 -62.8 84.3 -67.7 80.7C-72.7 77.2 -77.5 73.1 -81.7 68.5C-85.8 64.0 -89.6 58.8 -92.6 53.5C-95.6 48.1 -98.1 42.2 -99.9 36.4C-101.8 30.5 -102.9 24.3 -103.7 18.3C-104.4 12.2 -104.6 6.1 -104.5 0.0C-104.4 -6.1 -103.9 -12.1 -103.0 -18.2C-102.1 -24.2 -100.9 -30.2 -99.1 -36.1C-97.4 -42.0 -95.3 -47.9 -92.6 -53.5C-89.9 -59.0 -86.6 -64.6 -82.8 -69.5C-79.0 -74.5 -74.6 -79.2 -69.8 -83.2C-65.0 -87.2 -59.6 -90.7 -54.0 -93.6C-48.5 -96.4 -42.5 -98.6 -36.5 -100.3C-30.5 -101.9 -24.3 -103.0 -18.3 -103.6C-12.2 -104.2 -6.0 -104.2 -0.0 -103.9C6.0 -103.6 12.1 -102.9 17.9 -101.7C23.8 -100.5 29.7 -99.0 35.3 -96.9C40.9 -94.8 46.4 -92.3 51.6 -89.3C56.7 -86.3 61.7 -82.7 66.2 -78.8C70.6 -74.9 74.8 -70.5 78.5 -65.8C82.1 -61.2 85.3 -56.1 88.2 -50.9C91.0 -45.7 93.3 -40.2 95.4 -34.7C97.4 -29.2 99.1 -23.5 100.4 -17.7C101.8 -11.9 102.8 -6.0 103.5 0.0Z" transform="translate(1745.6 1409.2)" fill="#FDF3E4"/><path d="M103.5 0.0C104.1 6.0 104.5 12.2 104.3 18.4C104.1 24.6 103.6 31.0 102.3 37.2C101.0 43.5 99.2 49.8 96.6 55.8C94.0 61.7 90.7 67.6 86.7 72.8C82.8 78.0 78.0 82.8 72.9 86.9C67.8 90.9 61.9 94.3 56.0 97.0C50.1 99.6 43.6 101.4 37.4 102.7C31.1 104.0 24.7 104.5 18.4 104.6C12.2 104.8 6.0 104.3 0.0 103.7C-6.0 103.0 -11.9 102.0 -17.8 100.8C-23.6 99.5 -29.4 98.1 -35.0 96.3C-40.7 94.5 -46.4 92.4 -51.9 89.8C-57.3 87.2 -62.8 84.3 -67.7 80.7C-72.7 77.2 -77.5 73.1 -81.7 68.5C-85.8 64.0 -89.6 58.8 -92.6 53.5C-95.6 48.1 -98.1 42.2 -99.9 36.4C-101.8 30.5 -102.9 24.3 -103.7 18.3C-104.4 12.2 -104.6 6.1 -104.5 0.0C-104.4 -6.1 -103.9 -12.1 -103.0 -18.2C-102.1 -24.2 -100.9 -30.2 -99.1 -36.1C-97.4 -42.0 -95.3 -47.9 -92.6 -53.5C-89.9 -59.0 -86.6 -64.6 -82.8 -69.5C-79.0 -74.5 -74.6 -79.2 -69.8 -83.2C-65.0 -87.2 -59.6 -90.7 -54.0 -93.6C-48.5 -96.4 -42.5 -98.6 -36.5 -100.3C-30.5 -101.9 -24.3 -103.0 -18.3 -103.6C-12.2 -104.2 -6.0 -104.2 -0.0 -103.9C6.0 -103.6 12.1 -102.9 17.9 -101.7C23.8 -100.5 29.7 -99.0 35.3 -96.9C40.9 -94.8 46.4 -92.3 51.6 -89.3C56.7 -86.3 61.7 -82.7 66.2 -78.8C70.6 -74.9 74.8 -70.5 78.5 -65.8C82.1 -61.2 85.3 -56.1 88.2 -50.9C91.0 -45.7 93.3 -40.2 95.4 -34.7C97.4 -29.2 99.1 -23.5 100.4 -17.7C101.8 -11.9 102.8 -6.0 103.5 0.0Z" transform="translate(2177.1 1409.2)" fill="#FDF3E4"/><g fill="#231f20"><circle cx="174.3" cy="1596.4" r="4.88"/><circle cx="179.74" cy="1596.40" r="1.96"/><circle cx="178.15" cy="1600.25" r="1.96"/><circle cx="174.30" cy="1601.84" r="1.96"/><circle cx="170.45" cy="1600.25" r="1.96"/><circle cx="168.86" cy="1596.40" r="1.96"/><circle cx="170.45" cy="1592.55" r="1.96"/><circle cx="174.30" cy="1590.96" r="1.96"/><circle cx="178.15" cy="1592.55" r="1.96"/><circle cx="2225.4" cy="1596.4" r="4.88"/><circle cx="2230.84" cy="1596.40" r="1.96"/><circle cx="2229.25" cy="1600.25" r="1.96"/><circle cx="2225.40" cy="1601.84" r="1.96"/><circle cx="2221.55" cy="1600.25" r="1.96"/><circle cx="2219.96" cy="1596.40" r="1.96"/><circle cx="2221.55" cy="1592.55" r="1.96"/><circle cx="2225.40" cy="1590.96" r="1.96"/><circle cx="2229.25" cy="1592.55" r="1.96"/></g></svg>
<div id="txt">
<div class="t" style="left:430.8px;top:165.0px;font-size:21.6px;color:#33270f;transform:translateX(-50%) scaleX(1.0119)">The brighter</div>
<div class="t" style="left:430.9px;top:190.0px;font-size:21.6px;color:#33270f;transform:translateX(-50%) scaleX(1.0296)">the better,</div>
<div class="t" style="left:430.7px;top:215.0px;font-size:21.6px;color:#33270f;transform:translateX(-50%) scaleX(0.9182)">dial it up!</div>
<div class="t" style="left:994.9px;top:137.0px;font-size:21.6px;color:#23221f;transform:translateX(-50%) scaleX(0.9546)">Barbie pink,</div>
<div class="t" style="left:994.4px;top:163.0px;font-size:21.6px;color:#23221f;transform:translateX(-50%) scaleX(0.9850)">deep teals, bold</div>
<div class="t" style="left:993.5px;top:188.0px;font-size:21.6px;color:#23221f;transform:translateX(-50%) scaleX(0.9201)">yellows – how</div>
<div class="t" style="left:994.9px;top:213.0px;font-size:21.6px;color:#23221f;transform:translateX(-50%) scaleX(0.9500)">loud do you like</div>
<div class="t" style="left:993.4px;top:239.0px;font-size:21.6px;color:#23221f;transform:translateX(-50%) scaleX(0.9895)">your colours?</div>
<div class="t" style="left:1749.5px;top:150.0px;font-size:21.6px;color:#33270f;transform:translateX(-50%) scaleX(0.9552)">It’s giving me</div>
<div class="t" style="left:1749.3px;top:175.0px;font-size:21.6px;color:#33270f;transform:translateX(-50%) scaleX(0.9991)">a headache –</div>
<div class="t" style="left:1749.0px;top:201.0px;font-size:21.6px;color:#33270f;transform:translateX(-50%) scaleX(1.0159)">softer tones are</div>
<div class="t" style="left:1749.2px;top:227.0px;font-size:21.6px;color:#33270f;transform:translateX(-50%) scaleX(0.9741)">more my vibe.</div>
<div class="t" style="left:426.0px;top:379.0px;font-size:21.6px;color:#173a44;transform:translateX(-50%) scaleX(1.0225)">Statement</div>
<div class="t" style="left:426.4px;top:404.0px;font-size:21.6px;color:#173a44;transform:translateX(-50%) scaleX(0.9307)">wall or gallery</div>
<div class="t" style="left:426.6px;top:429.0px;font-size:21.6px;color:#173a44;transform:translateX(-50%) scaleX(0.9528)">wall featuring a</div>
<div class="t" style="left:426.1px;top:455.0px;font-size:21.6px;color:#173a44;transform:translateX(-50%) scaleX(0.9831)">mish–mash of art</div>
<div class="t" style="left:424.8px;top:481.0px;font-size:21.6px;color:#173a44;transform:translateX(-50%) scaleX(1.0000)">and artefacts?</div>
<div class="t" style="left:1745.2px;top:394.0px;font-size:21.6px;color:#173a44;transform:translateX(-50%) scaleX(0.9518)">Do you enjoy</div>
<div class="t" style="left:1745.4px;top:420.0px;font-size:21.6px;color:#173a44;transform:translateX(-50%) scaleX(1.0012)">keeping trinkets</div>
<div class="t" style="left:1745.2px;top:445.0px;font-size:21.6px;color:#173a44;transform:translateX(-50%) scaleX(1.0073)">from past dates</div>
<div class="t" style="left:1744.0px;top:470.0px;font-size:21.6px;color:#173a44;transform:translateX(-50%) scaleX(0.9958)">and events?</div>
<div class="t" style="left:217.7px;top:655.0px;font-size:21.6px;color:#3a2238;transform:translateX(-50%) scaleX(0.9524)">I love making a</div>
<div class="t" style="left:217.5px;top:681.0px;font-size:21.6px;color:#3a2238;transform:translateX(-50%) scaleX(1.0186)">statement with</div>
<div class="t" style="left:217.7px;top:707.0px;font-size:21.6px;color:#3a2238;transform:translateX(-50%) scaleX(0.9685)">my design.</div>
<div class="t" style="left:646.7px;top:643.0px;font-size:21.6px;color:#3a2238;transform:translateX(-50%) scaleX(0.9800)">Mix–and–match</div>
<div class="t" style="left:646.4px;top:668.0px;font-size:21.6px;color:#3a2238;transform:translateX(-50%) scaleX(0.9497)">baby, I have a</div>
<div class="t" style="left:646.7px;top:694.0px;font-size:21.6px;color:#3a2238;transform:translateX(-50%) scaleX(0.9678)">whole collection</div>
<div class="t" style="left:646.8px;top:719.0px;font-size:21.6px;color:#3a2238;transform:translateX(-50%) scaleX(0.9382)">to display.</div>
<div class="t" style="left:1529.0px;top:625.0px;font-size:21.6px;color:#3a2238;transform:translateX(-50%) scaleX(0.9558)">Absolutely,</div>
<div class="t" style="left:1528.6px;top:651.0px;font-size:21.6px;color:#3a2238;transform:translateX(-50%) scaleX(0.9408)">I love collecting</div>
<div class="t" style="left:1529.0px;top:676.0px;font-size:21.6px;color:#3a2238;transform:translateX(-50%) scaleX(1.0075)">mementos of</div>
<div class="t" style="left:1529.0px;top:701.0px;font-size:21.6px;color:#3a2238;transform:translateX(-50%) scaleX(0.9868)">people, places</div>
<div class="t" style="left:1528.6px;top:727.0px;font-size:21.6px;color:#3a2238;transform:translateX(-50%) scaleX(0.9875)">and things.</div>
<div class="t" style="left:1963.7px;top:654.0px;font-size:21.6px;color:#3a2238;transform:translateX(-50%) scaleX(0.9489)">Not overly, I am</div>
<div class="t" style="left:1963.1px;top:680.0px;font-size:21.6px;color:#3a2238;transform:translateX(-50%) scaleX(1.0230)">not too attached</div>
<div class="t" style="left:1963.8px;top:705.0px;font-size:21.6px;color:#3a2238;transform:translateX(-50%) scaleX(0.9819)">to bits and bobs.</div>
<div class="t" style="left:774.8px;top:885.0px;font-size:21.6px;color:#3a3010;transform:translateX(-50%) scaleX(1.0040)">Which period</div>
<div class="t" style="left:776.0px;top:911.0px;font-size:21.6px;color:#3a3010;transform:translateX(-50%) scaleX(0.9967)">do you draw</div>
<div class="t" style="left:774.9px;top:937.0px;font-size:21.6px;color:#3a3010;transform:translateX(-50%) scaleX(1.0018)">your inspiration</div>
<div class="t" style="left:774.1px;top:962.0px;font-size:21.6px;color:#3a3010;transform:translateX(-50%) scaleX(0.9833)">from?</div>
<div class="t" style="left:1966.6px;top:869.0px;font-size:21.6px;color:#3a3010;transform:translateX(-50%) scaleX(0.9948)">Do you dream</div>
<div class="t" style="left:1966.5px;top:894.0px;font-size:21.6px;color:#3a3010;transform:translateX(-50%) scaleX(0.9696)">of Scandi–chic</div>
<div class="t" style="left:1966.0px;top:919.0px;font-size:21.6px;color:#3a3010;transform:translateX(-50%) scaleX(1.0261)">or Wes</div>
<div class="t" style="left:1967.1px;top:945.0px;font-size:21.6px;color:#3a3010;transform:translateX(-50%) scaleX(0.9834)">Anderson–style</div>
<div class="t" style="left:1965.2px;top:970.0px;font-size:21.6px;color:#3a3010;transform:translateX(-50%) scaleX(1.0033)">wonderland?</div>
<div class="t" style="left:562.1px;top:1120.0px;font-size:21.6px;color:#5c1908;transform:translateX(-50%) scaleX(1.0003)">Past, present,</div>
<div class="t" style="left:561.5px;top:1146.0px;font-size:21.6px;color:#5c1908;transform:translateX(-50%) scaleX(0.9641)">future – I am</div>
<div class="t" style="left:561.9px;top:1171.0px;font-size:21.6px;color:#5c1908;transform:translateX(-50%) scaleX(0.9684)">inspired by lots of</div>
<div class="t" style="left:561.0px;top:1197.0px;font-size:21.6px;color:#5c1908;transform:translateX(-50%) scaleX(0.9773)">different eras.</div>
<div class="t" style="left:992.5px;top:1130.0px;font-size:21.6px;color:#5c1908;transform:translateX(-50%) scaleX(0.9395)">My own</div>
<div class="t" style="left:992.4px;top:1156.0px;font-size:21.6px;color:#5c1908;transform:translateX(-50%) scaleX(1.0069)">childhood and</div>
<div class="t" style="left:992.5px;top:1181.0px;font-size:21.6px;color:#5c1908;transform:translateX(-50%) scaleX(0.9618)">historic styles.</div>
<div class="t" style="left:1747.3px;top:1134.0px;font-size:21.6px;color:#5c1908;transform:translateX(-50%) scaleX(1.0159)">Wes Anderson</div>
<div class="t" style="left:1746.5px;top:1160.0px;font-size:21.6px;color:#5c1908;transform:translateX(-50%) scaleX(1.0289)">sorbet shades</div>
<div class="t" style="left:1746.9px;top:1185.0px;font-size:21.6px;color:#5c1908;transform:translateX(-50%) scaleX(0.9814)">for me.</div>
<div class="t" style="left:2181.3px;top:1144.0px;font-size:21.6px;color:#5c1908;transform:translateX(-50%) scaleX(0.9694)">Take me to</div>
<div class="t" style="left:2181.0px;top:1170.0px;font-size:21.6px;color:#5c1908;transform:translateX(-50%) scaleX(0.9979)">Copenhagen!</div>
<div class="t" style="left:217.9px;top:1380.0px;font-size:29.5px;color:#23221f;transform:translateX(-50%) scaleX(0.9359)">Bold</div>
<div class="t" style="left:217.7px;top:1421.0px;font-size:21.6px;color:#23221f;transform:translateX(-50%) scaleX(0.9883)">(pages 24–25)</div>
<div class="t" style="left:561.2px;top:1381.0px;font-size:29.5px;color:#23221f;transform:translateX(-50%) scaleX(0.9854)">Eclectic</div>
<div class="t" style="left:560.8px;top:1422.0px;font-size:21.6px;color:#23221f;transform:translateX(-50%) scaleX(0.9818)">(pages 26–27)</div>
<div class="t" style="left:995.2px;top:1381.0px;font-size:29.5px;color:#23221f;transform:translateX(-50%) scaleX(0.9897)">Nostalgic</div>
<div class="t" style="left:995.2px;top:1422.0px;font-size:21.6px;color:#23221f;transform:translateX(-50%) scaleX(0.9818)">(pages 32–33)</div>
<div class="t" style="left:1747.3px;top:1379.0px;font-size:29.5px;color:#23221f;transform:translateX(-50%) scaleX(0.9806)">Pastel</div>
<div class="t" style="left:1746.9px;top:1420.0px;font-size:21.6px;color:#23221f;transform:translateX(-50%) scaleX(0.9899)">(pages 28–29)</div>
<div class="t" style="left:2180.1px;top:1348.0px;font-size:29.5px;color:#23221f;transform:translateX(-50%) scaleX(0.9977)">Minimalism</div>
<div class="t" style="left:2180.4px;top:1384.0px;font-size:29.5px;color:#23221f;transform:translateX(-50%) scaleX(1.0195)">Meets</div>
<div class="t" style="left:2180.1px;top:1417.0px;font-size:29.5px;color:#23221f;transform:translateX(-50%) scaleX(0.9883)">Maximalism</div>
<div class="t" style="left:2180.1px;top:1458.0px;font-size:21.6px;color:#23221f;transform:translateX(-50%) scaleX(0.9493)">(pages 30–31)</div>
<div class="t" style="left:99.5px;top:1560.5px;font-size:62.5px;color:#231f20;-webkit-text-stroke:0.7px #231f20;transform:translateX(-50%) scaleX(1.0656)">22</div>
<div class="t" style="left:2301.0px;top:1559.5px;font-size:62.5px;color:#231f20;-webkit-text-stroke:0.7px #231f20;transform:translateX(-50%) scaleX(1.0720)">23</div>
<div class="t" style="left:274.3px;top:1583.0px;font-size:28.5px;color:#231f20;-webkit-text-stroke:0.45px #231f20;transform:translateX(-50%) scaleX(1.0647)">Introduction</div>
<div class="t" style="left:2109.0px;top:1583.0px;font-size:28.5px;color:#231f20;-webkit-text-stroke:0.45px #231f20;transform:translateX(-50%) scaleX(1.0254)">Find Your Tribe</div>
</div>
</body></html>
